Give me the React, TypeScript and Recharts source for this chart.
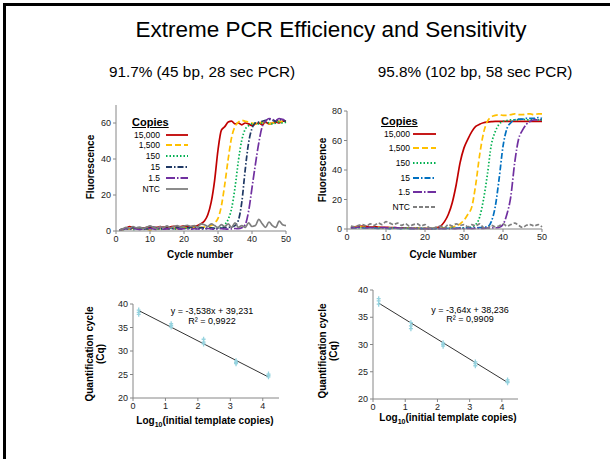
import React from 'react';
import { LineChart, Line, XAxis, YAxis, ScatterChart, Scatter, ReferenceLine } from 'recharts';

const FONT = '"Liberation Sans", Arial, sans-serif';
const AXIS = '#868686';

// cycle numbers shared by both amplification plots
const cycles = [
  1, 2, 3, 4, 5, 6, 7, 8, 9, 10,
  11, 12, 13, 14, 15, 16, 17, 18, 19, 20,
  21, 22, 23, 24, 25, 26, 27, 28, 29, 30,
  31, 32, 33, 34, 35, 36, 37, 38, 39, 40,
  41, 42, 43, 44, 45, 46, 47, 48, 49, 50,
];

const copyLabels = ['15,000', '1,500', '150', '15', '1.5', 'NTC'];
const leftColors = ['#c00000', '#ffc000', '#00b050', '#1f3864', '#7030a0', '#7f7f7f'];
const rightColors = ['#c00000', '#ffc000', '#00b050', '#0070c0', '#7030a0', '#7f7f7f'];
const leftDashes = ['', '6 3', '1.5 2', '6 2 1.5 2', '9 2 1.5 2', ''];
const rightDashes = ['', '6 3', '1.5 2', '6 2 1.5 2', '9 2 1.5 2', '4 2'];

// 45 bp, 28 sec PCR
const a15000 = [
  0.5, 1.0, 1.5, 2.5, 2.0, 1.5, 1.8, 1.6, 2.0, 2.2,
  1.8, 2.0, 2.4, 2.1, 2.0, 2.3, 2.6, 2.2, 2.5, 2.8,
  2.6, 2.4, 2.7, 3.0, 4.0, 5.5, 9.0, 16.0, 28.0, 45.0,
  56.0, 58.0, 60.5, 61.0, 59.5, 60.0, 59.0, 60.0, 59.5, 58.5,
  59.5, 60.0, 59.0, 60.5, 59.5, 60.0, 60.5, 60.0, 61.0, 61.0,
];
const a1500 = [
  0.3, 0.8, 1.2, 1.0, 1.5, 1.2, 1.0, 1.4, 1.2, 0.5,
  1.0, 1.3, 1.1, 1.5, 1.2, 1.4, 1.6, 1.3, 1.5, 1.8,
  1.6, 1.7, 2.0, 1.8, 2.0, 2.2, 2.5, 3.0, 4.5, 7.0,
  14.0, 26.0, 40.0, 52.0, 58.0, 60.5, 61.5, 61.0, 60.5, 60.0,
  59.5, 60.0, 60.5, 60.0, 59.5, 60.0, 60.5, 61.0, 60.5, 61.0,
];
const a150 = [
  0.3, 0.8, 1.0, 1.2, 0.8, 1.0, 1.3, 0.9, 1.1, 1.4,
  1.0, 1.2, 0.9, 1.3, 1.1, 1.5, 1.2, 1.0, 1.4, 1.6,
  1.3, 1.5, 1.2, 1.4, 1.6, 1.3, 1.5, 1.7, 1.4, 1.6,
  2.0, 3.5, 6.5, 12.5, 24.0, 39.0, 50.5, 56.5, 58.5, 59.5,
  60.0, 59.5, 60.0, 60.5, 60.0, 59.5, 60.0, 60.5, 60.0, 60.5,
];
const a15 = [
  0.5, 1.0, 1.5, 1.2, 1.8, 1.3, 1.0, 1.5, 1.2, 1.8,
  2.2, 1.6, 1.3, 1.8, 1.5, 1.2, 1.6, 2.0, 1.7, 1.4,
  1.8, 2.1, 1.7, 1.5, 1.9, 1.6, 1.4, 1.8, 1.5, 1.7,
  1.6, 1.8, 2.0, 2.3, 3.0, 6.0, 16.0, 34.0, 49.0, 57.0,
  60.0, 60.5, 61.0, 61.5, 62.0, 61.5, 61.0, 62.0, 61.5, 61.0,
];
const a1_5 = [
  0.4, 0.9, 1.3, 1.0, 1.5, 1.1, 0.8, 1.2, 1.0, 1.4,
  1.1, 0.9, 1.3, 1.0, 1.2, 1.5, 1.1, 1.3, 1.0, 1.4,
  1.2, 1.0, 1.3, 1.1, 1.0, 1.2, 1.4, 1.1, 1.0, 1.2,
  1.3, 1.1, 1.0, 1.2, 1.4, 1.3, 1.8, 3.5, 11.0, 24.0,
  37.0, 49.0, 58.0, 61.0, 62.5, 62.0, 61.5, 62.5, 62.0, 61.5,
];
const aNtc = [
  0.5, 1.2, 2.0, 1.5, 2.5, 1.8, 2.2, 1.5, 2.0, 2.8,
  2.0, 1.5, 2.5, 2.0, 2.8, 1.8, 2.4, 3.0, 2.2, 2.8,
  3.2, 2.5, 3.0, 2.2, 4.0, 3.5, 2.5, 4.0, 3.0, 2.0,
  3.5, 2.5, 4.0, 2.0, 4.5, 2.0, 3.0, 2.0, 4.5, 2.5,
  3.0, 6.5, 4.0, 2.0, 5.0, 3.0, 2.0, 5.5, 3.5, 3.0,
];

// 102 bp, 58 sec PCR
const b15000 = [
  1.0, 1.5, 1.8, 2.0, 1.8, 1.5, 1.5, 1.3, 1.2, 1.2,
  1.0, 1.0, 0.8, 0.8, 0.6, 0.5, 0.5, 0.4, 0.3, 0.3,
  0.2, 0.3, 0.8, 2.0, 5.0, 10.0, 18.0, 30.0, 45.0, 55.0,
  61.0, 66.0, 69.5, 71.0, 72.0, 72.5, 72.8, 73.0, 73.0, 73.0,
  73.0, 73.0, 73.0, 73.0, 73.0, 73.0, 73.0, 73.0, 73.0, 73.0,
];
const b1500 = [
  0.8, 1.2, 1.5, 1.3, 1.0, 1.2, 0.9, 1.1, 0.8, 1.0,
  0.7, 0.9, 0.6, 0.8, 0.5, 0.7, 0.5, 0.6, 0.4, 0.5,
  0.3, 0.4, 0.5, 0.6, 0.8, 1.0, 1.3, 2.0, 3.5, 6.0,
  10.0, 15.0, 30.0, 50.0, 65.0, 73.0, 76.0, 77.0, 77.5, 77.0,
  77.0, 77.5, 78.0, 77.5, 77.5, 78.0, 78.0, 77.5, 78.0, 78.0,
];
const b150 = [
  0.5, 0.8, 1.0, 0.8, 0.6, 0.9, 0.7, 0.5, 0.8, 0.6,
  0.4, 0.7, 0.5, 0.3, 0.5, 0.4, 0.3, 0.5, 0.4, 0.3,
  0.2, 0.3, 0.4, 0.3, 0.5, 0.4, 0.6, 0.5, 0.7, 0.8,
  1.0, 1.5, 3.0, 8.0, 20.0, 37.0, 57.0, 66.0, 71.0, 73.0,
  73.5, 74.0, 74.0, 74.0, 74.5, 74.0, 74.0, 74.5, 74.0, 74.0,
];
const b15 = [
  0.5, 0.7, 0.9, 0.7, 0.5, 0.8, 0.6, 0.4, 0.7, 0.5,
  0.3, 0.6, 0.4, 0.3, 0.5, 0.3, 0.2, 0.4, 0.3, 0.2,
  0.3, 0.2, 0.3, 0.4, 0.3, 0.5, 0.4, 0.5, 0.6, 0.5,
  0.7, 0.6, 0.8, 0.9, 1.2, 1.5, 5.0, 15.0, 34.0, 56.0,
  68.0, 72.0, 74.0, 74.5, 74.5, 75.0, 75.0, 75.0, 75.5, 75.0,
];
const b1_5 = [
  0.6, 0.9, 1.2, 1.0, 0.8, 1.1, 0.9, 0.7, 1.0, 0.8,
  0.6, 0.9, 0.7, 0.5, 0.6, 0.4, 0.3, 0.4, 0.3, 0.2,
  0.3, 0.2, 0.3, 0.2, 0.3, 0.2, 0.3, 0.3, 0.4, 0.3,
  0.4, 0.3, 0.4, 0.5, 0.4, 0.6, 0.7, 0.8, 1.0, 3.0,
  10.0, 22.0, 45.0, 61.0, 67.0, 71.0, 73.0, 74.0, 74.0, 74.0,
];
const bNtc = [
  2.0, 1.5, 2.5, 3.0, 2.0, 3.5, 2.5, 4.0, 3.0, 5.0,
  4.0, 3.0, 4.0, 2.5, 3.5, 2.0, 3.0, 3.5, 2.0, 3.0,
  1.0, 0.5, 1.5, 2.0, 1.0, 3.0, 2.0, 3.5, 2.5, 3.0,
  1.5, 3.0, 2.0, 3.5, 1.0, 0.5, 2.5, 1.5, 2.0, 3.5,
  2.0, 3.0, 4.0, 2.5, 1.0, 2.5, 3.0, 2.0, 3.0, 1.5,
];

// standard curves: log10 copies vs Cq (three replicates)
const logCopies = [0.176, 1.176, 2.176, 3.176, 4.176];
const leftCqRep1 = [38.7, 35.8, 32.5, 27.9, 25.1];
const leftCqRep2 = [38.2, 35.4, 31.9, 27.6, 24.8];
const leftCqRep3 = [37.8, 35.1, 31.5, 27.3, 24.5];
const rightCqRep1 = [38.4, 34.0, 30.3, 26.8, 23.5];
const rightCqRep2 = [38.0, 33.4, 30.0, 26.5, 23.2];
const rightCqRep3 = [37.4, 32.9, 29.7, 26.1, 23.0];
const trendX = [0.176, 4.176];
const leftTrendY = [38.61, 24.46];
const rightTrendY = [37.60, 23.04];

const leftSeries = [a15000, a1500, a150, a15, a1_5, aNtc];
const rightSeries = [b15000, b1500, b150, b15, b1_5, bNtc];

const toRows = (series: number[][]) =>
  cycles.map((c, i) => {
    const row: Record<string, number> = { cycle: c };
    series.forEach((s, k) => (row['s' + k] = s[i]));
    return row;
  });

const toPoints = (reps: number[][]) =>
  reps.flatMap((rep) => logCopies.map((x, i) => ({ x, y: rep[i] })));

const leftRows = toRows(leftSeries);
const rightRows = toRows(rightSeries);
const leftPoints = toPoints([leftCqRep1, leftCqRep2, leftCqRep3]);
const rightPoints = toPoints([rightCqRep1, rightCqRep2, rightCqRep3]);

const tickStyle = { fontSize: 9, fill: '#222', fontFamily: FONT };

function Plus(props: any) {
  const { cx, cy } = props;
  return (
    <path
      d={`M${cx - 2},${cy}H${cx + 2}M${cx},${cy - 2.5}V${cy + 2.5}`}
      stroke="#96d3df"
      strokeWidth={1.3}
      fill="none"
    />
  );
}

function Abs({ x, y, children, style, rotate }: any) {
  return (
    <div
      style={{
        position: 'absolute',
        left: x,
        top: y,
        transform: `translate(-50%, -50%)${rotate ? ' rotate(-90deg)' : ''}`,
        whiteSpace: 'nowrap',
        textAlign: 'center',
        lineHeight: 1.1,
        ...style,
      }}
    >
      {children}
    </div>
  );
}

function CopiesLegend({ left, top, labelRight, lineX, lineW, gap, colors, dashes }: any) {
  return (
    <div style={{ position: 'absolute', left: 0, top: 0 }}>
      <div
        style={{
          position: 'absolute',
          left,
          top: top - 7,
          fontSize: 11,
          fontWeight: 'bold',
          textDecoration: 'underline',
          lineHeight: '14px',
        }}
      >
        Copies
      </div>
      {copyLabels.map((lab, i) => {
        const cy = top + 12.5 + i * gap;
        return (
          <React.Fragment key={lab}>
            <div
              style={{
                position: 'absolute',
                left: labelRight - 50,
                width: 50,
                top: cy - 6,
                textAlign: 'right',
                fontSize: 8.5,
                lineHeight: '12px',
              }}
            >
              {lab}
            </div>
            <svg style={{ position: 'absolute', left: lineX, top: cy - 3 }} width={lineW} height={6}>
              <line
                x1={0}
                y1={3}
                x2={lineW}
                y2={3}
                stroke={colors[i]}
                strokeWidth={1.8}
                strokeDasharray={dashes[i] || undefined}
              />
            </svg>
          </React.Fragment>
        );
      })}
    </div>
  );
}

function AmpChart({ rows, colors, dashes, left, top, width, height, yMax, yTicks, yAxisW, margin, xAxisH }: any) {
  return (
    <div style={{ position: 'absolute', left, top }}>
      <LineChart width={width} height={height} data={rows} margin={margin}>
        <XAxis
          dataKey="cycle"
          type="number"
          domain={[0, 50]}
          ticks={[0, 10, 20, 30, 40, 50]}
          height={xAxisH}
          tick={tickStyle}
          tickSize={3}
          stroke={AXIS}
        />
        <YAxis
          type="number"
          domain={[0, yMax]}
          ticks={yTicks}
          width={yAxisW}
          tick={tickStyle}
          tickSize={3}
          stroke={AXIS}
        />
        {colors.map((c: string, k: number) => (
          <Line
            key={k}
            dataKey={'s' + k}
            type="monotone"
            stroke={c}
            strokeWidth={1.7}
            strokeDasharray={dashes[k] || undefined}
            dot={false}
            isAnimationActive={false}
          />
        ))}
      </LineChart>
    </div>
  );
}

function CurveChart({ points, trendY, left, top, width, height, yAxisW, margin, xAxisH }: any) {
  return (
    <div style={{ position: 'absolute', left, top }}>
      <ScatterChart width={width} height={height} margin={margin}>
        <XAxis
          dataKey="x"
          type="number"
          domain={[0, 4.5]}
          ticks={[0, 1, 2, 3, 4]}
          height={xAxisH}
          tick={tickStyle}
          tickSize={3}
          stroke={AXIS}
        />
        <YAxis
          dataKey="y"
          type="number"
          domain={[20, 40]}
          ticks={[20, 25, 30, 35, 40]}
          width={yAxisW}
          tick={tickStyle}
          tickSize={3}
          stroke={AXIS}
        />
        <ReferenceLine
          segment={[
            { x: trendX[0], y: trendY[0] },
            { x: trendX[1], y: trendY[1] },
          ]}
          stroke="#333"
          strokeWidth={1}
        />
        <Scatter data={points} shape={<Plus />} isAnimationActive={false} />
      </ScatterChart>
    </div>
  );
}

const bold10 = { fontSize: 10, fontWeight: 'bold' as const };

export default function App() {
  return (
    <div
      style={{
        position: 'absolute',
        left: 0,
        top: 0,
        width: 610,
        height: 459,
        background: '#fff',
        overflow: 'hidden',
        fontFamily: FONT,
        color: '#000',
      }}
    >
      <div
        style={{
          position: 'absolute',
          left: 3,
          top: 3,
          width: 620,
          height: 470,
          borderTop: '3px solid #000',
          borderLeft: '3px solid #000',
        }}
      />
      <Abs x={331} y={30} style={{ fontSize: 22.5 }}>Extreme PCR Efficiency and Sensitivity</Abs>
      <Abs x={202} y={72} style={{ fontSize: 15.3 }}>91.7% (45 bp, 28 sec PCR)</Abs>
      <Abs x={475} y={72} style={{ fontSize: 15.3 }}>95.8% (102 bp, 58 sec PCR)</Abs>

      <AmpChart
        rows={leftRows}
        colors={leftColors}
        dashes={leftDashes}
        left={70}
        top={95}
        width={230}
        height={170}
        yMax={70}
        yTicks={[0, 20, 40, 60]}
        yAxisW={46}
        xAxisH={34}
        margin={{ top: 10, right: 14, bottom: 0, left: 0 }}
      />
      <CopiesLegend left={132} top={122} labelRight={160} lineX={166} lineW={22} gap={10.9} colors={leftColors} dashes={leftDashes} />
      <Abs x={90} y={167} rotate style={bold10}>Fluorescence</Abs>
      <Abs x={200} y={254} style={bold10}>Cycle number</Abs>

      <AmpChart
        rows={rightRows}
        colors={rightColors}
        dashes={rightDashes}
        left={300}
        top={100}
        width={255}
        height={165}
        yMax={80}
        yTicks={[0, 20, 40, 60, 80]}
        yAxisW={47}
        xAxisH={36}
        margin={{ top: 11, right: 13, bottom: 0, left: 0 }}
      />
      <CopiesLegend left={381} top={121} labelRight={410} lineX={413} lineW={23} gap={14.7} colors={rightColors} dashes={rightDashes} />
      <Abs x={322} y={170} rotate style={bold10}>Fluorescence</Abs>
      <Abs x={443} y={254} style={bold10}>Cycle Number</Abs>

      <CurveChart
        points={leftPoints}
        trendY={leftTrendY}
        left={80}
        top={294}
        width={215}
        height={140}
        yAxisW={53}
        xAxisH={36}
        margin={{ top: 10, right: 16, bottom: 0, left: 0 }}
      />
      <Abs x={212} y={312} style={{ fontSize: 9 }}>y = -3,538x + 39,231</Abs>
      <Abs x={212} y={322} style={{ fontSize: 9 }}>R² = 0,9922</Abs>
      <Abs x={95} y={354} rotate style={bold10}>
        Quantification cycle
        <br />
        (Cq)
      </Abs>
      <Abs x={205} y={422} style={bold10}>
        Log<sub style={{ fontSize: 7 }}>10</sub>(initial template copies)
      </Abs>

      <CurveChart
        points={rightPoints}
        trendY={rightTrendY}
        left={310}
        top={280}
        width={225}
        height={155}
        yAxisW={63}
        xAxisH={36}
        margin={{ top: 10, right: 17, bottom: 0, left: 0 }}
      />
      <Abs x={470} y={311} style={{ fontSize: 9 }}>y = -3,64x + 38,236</Abs>
      <Abs x={470} y={320} style={{ fontSize: 9 }}>R² = 0,9909</Abs>
      <Abs x={328} y={351} rotate style={bold10}>
        Quantification cycle
        <br />
        (Cq)
      </Abs>
      <Abs x={448} y={419} style={bold10}>
        Log<sub style={{ fontSize: 7 }}>10</sub>(initial template copies)
      </Abs>
    </div>
  );
}
